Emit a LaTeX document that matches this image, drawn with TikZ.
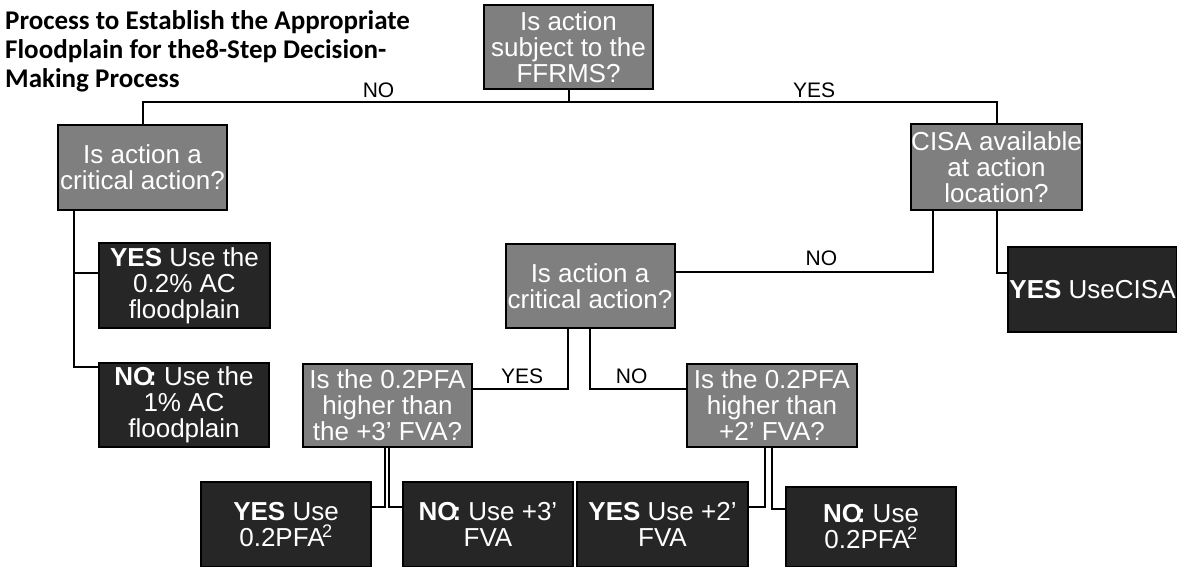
\documentclass[tikz,border=0pt]{standalone}
\usepackage{fontspec}
\setmainfont{Liberation Sans}
\newfontfamily\titlefont{Carlito}
\usetikzlibrary{calc}

\definecolor{qgray}{HTML}{7F7F7F}
\definecolor{agray}{HTML}{262626}

\begin{document}
\begin{tikzpicture}[x=1pt,y=-1pt,
			qbox/.style={draw=black,line width=2pt,fill=qgray,text=white,align=center,inner sep=0pt,
				minimum width=169pt,minimum height=84pt,font=\fontsize{26}{26}\selectfont},
			abox/.style={qbox,fill=agray},
			link/.style={line width=2pt},
			lbl/.style={font=\fontsize{21}{24}\selectfont,inner sep=0pt}]
			          %page frame in pixel units
			          \useasboundingbox (0,0) rectangle (1177,567);
			          
			          \node[anchor=north west,align=left,inner sep=0pt,font=\titlefont\bfseries\fontsize{27}{29}\selectfont] (title) at (5,10)
			          	{Process to Establish the Appropriate\\Floodplain for the8-Step Decision-\\Making Process};
			          
			          %questions
			          \node[qbox] (ffrms) at (568.5,47) {Is action\\subject to the\\FFRMS?};
			          \node[qbox] (crit1) at (142.5,167.5) {Is action a\\critical action?};
			          \node[qbox,minimum height=86pt] (cisa) at (996.5,167) {CISA available\\at action\\location?};
			          \node[qbox] (crit2) at (590,286) {Is action a\\critical action?};
			          \node[qbox,minimum height=83pt] (pfa3) at (387.5,405.5) {Is the 0.2PFA\\higher than\\the +3’ FVA?};
			          \node[qbox,minimum width=170pt,minimum height=83pt] (pfa2) at (772,405.5) {Is the 0.2PFA\\higher than\\+2’ FVA?};
			          
			          %answers
			          \node[abox,minimum width=171pt,minimum height=85pt] (yes1) at (184.5,285.5) {\textbf{YES} Use the\\0.2\% AC\\floodplain};
			          \node[abox,minimum width=170pt] (no1) at (184,405) {\textbf{NO\kern-.2em:} Use the\\1\% AC\\floodplain};
			          \node[abox,minimum height=85pt] (yescisa) at (1092.5,289.5) {\textbf{YES} UseCISA};
			          \node[abox,minimum width=170pt,minimum height=85pt] (yes3) at (286,524.5) {\textbf{YES} Use\\0.2PFA\kern-.1em\textsuperscript{2}};
			          \node[abox,minimum width=170pt,minimum height=85pt] (no3) at (488,524.5) {\textbf{NO\kern-.2em:} Use +3’\\FVA};
			          \node[abox,minimum width=171pt,minimum height=85pt] (yes2) at (662.5,524.5) {\textbf{YES} Use +2’\\FVA};
			          \node[abox,minimum width=170pt,minimum height=80pt] (no2) at (871,527) {\textbf{NO\kern-.2em:} Use\\0.2PFA\kern-.1em\textsuperscript{2}};
			          
			          %links
			          \draw[link] (ffrms.south) -- ++(0,12) coordinate (split) -| (crit1.north) node[lbl,pos=0.223,above=3pt]{NO};
			          \draw[link] (split) -| (cisa.north) node[lbl,pos=0.287,above=3pt]{YES};
			          \draw[link] ($(crit1.south west)+(17,0)$) |- ($(yes1.west)+(0,-13)$);
			          \draw[link] ($(crit1.south west)+(17,0)$) |- ($(no1.north west)+(0,5)$);
			          \draw[link] ($(cisa.south west)+(23,0)$) |- ($(crit2.east)+(0,-14)$) node[lbl,pos=0.717,above=5pt]{NO};
			          \draw[link] (cisa.south) |- ($(yescisa.west)+(0,-17)$);
			          \draw[link] ($(crit2.south west)+(63,0)$) |- ($(pfa3.north east)+(0,26)$) node[lbl,pos=0.74,above=4pt]{YES};
			          \draw[link] (crit2.south) |- ($(pfa2.north west)+(0,26)$) node[lbl,pos=0.717,above=4pt]{NO};
			          \draw[link] ($(pfa3.south)+(-3,0)$) |- ($(yes3.north east)+(0,26)$);
			          \draw[link] ($(pfa3.south)+(1,0)$) |- ($(no3.north west)+(0,26)$);
			          \draw[link] ($(pfa2.south)+(-7,0)$) |- ($(yes2.north east)+(0,26)$);
			          \draw[link] (pfa2.south) |- ($(no2.north west)+(0,23)$);
\end{tikzpicture}
\end{document}
